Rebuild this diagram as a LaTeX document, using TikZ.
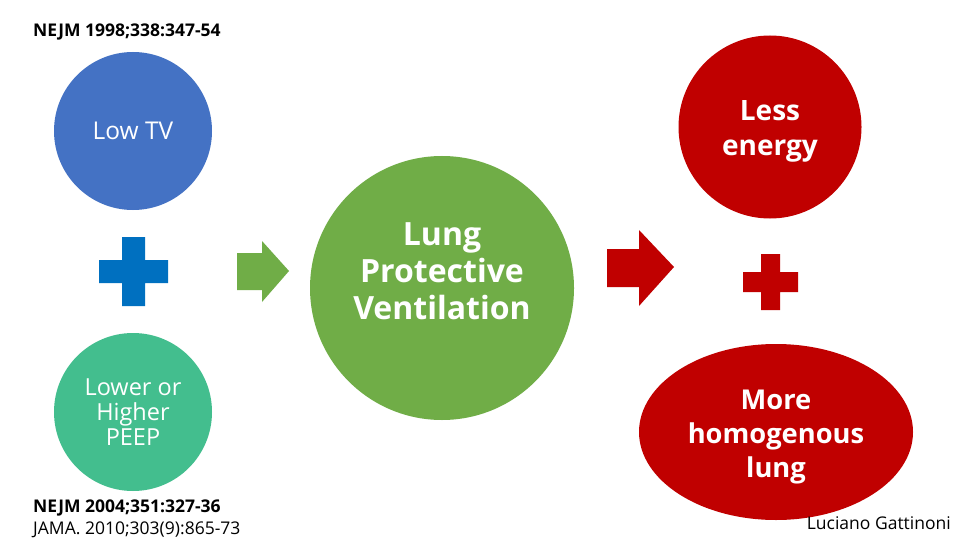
\documentclass[tikz,border=0pt]{standalone}
\usepackage{fontspec}
\setmainfont{Open Sans}
\usepackage{tikz}
\usetikzlibrary{positioning,shapes.geometric}

\definecolor{tvblue}{HTML}{4472C4}
\definecolor{peepteal}{HTML}{43BE8E}
\definecolor{lpvgreen}{HTML}{70AD47}
\definecolor{resred}{HTML}{C00000}
\definecolor{plusblue}{HTML}{0070C0}

\begin{document}
\begin{tikzpicture}[x=1pt,y=-1pt,inner sep=0pt,
    bubble/.style={circle,fill=#1,text=white,align=center},
    inside/.style={text=white,align=center},
    cite/.style={anchor=west,font=\fontsize{17.5}{23}\selectfont}]
    \useasboundingbox[fill=white] (0,0) rectangle (960,540);
    % \draw[help lines,step=20] (0,0) grid (960,540);
    \node[bubble=tvblue,minimum size=158pt,font=\fontsize{24.5}{25}\selectfont]   (tv)   at (133,131) {Low TV};
    \node[bubble=peepteal,minimum size=158pt,font=\fontsize{23.5}{25}\selectfont] (peep) at (133,412) {Lower or\\Higher\\PEEP};
    \node[bubble=lpvgreen,minimum size=264pt] (lpv)  at (442,288) {};
    \node[inside,font=\fontsize{32}{37}\selectfont\bfseries] (lpvtext) at (442,271) {Lung\\Protective\\Ventilation};
    \node[bubble=resred,minimum size=183pt]   (less) at (770,127) {};
    \node[inside,font=\fontsize{28}{35}\selectfont\bfseries] (lesstext) at (770,131) {Less\\energy};
    \node[ellipse,fill=resred,minimum width=274pt,minimum height=176pt] (homo) at (776,432) {};
    \node[inside,font=\fontsize{27.3}{34}\selectfont\bfseries] (homotext) at (776,437) {More\\homogenous\\lung};
    % plus signs
    \fill[plusblue] (122,237) rectangle (145,306) (99,260) rectangle (168,283);
    \fill[resred] (761,254) rectangle (780,310) (743,272) rectangle (798,292);
    % block arrows
    \fill[lpvgreen] (237,253) -- (262,253) -- (262,241) -- (289,271) -- (262,302) -- (262,290) -- (237,290) -- cycle;
    \fill[resred] (607,249) -- (639,249) -- (639,230) -- (674,267) -- (639,306) -- (639,287) -- (607,287) -- cycle;
    % references
    \node[cite,font=\fontsize{17.5}{23}\selectfont\bfseries] (ref1) at (33,32) {NEJM 1998;338:347-54};
    \node[cite,font=\fontsize{17.5}{23}\selectfont\bfseries] (ref2) at (33,508) {NEJM 2004;351:327-36};
    \node[cite] (ref3) at (33,530) {JAMA. 2010;303(9):865-73};
    \node[cite,anchor=east] (auth) at (951,523) {Luciano Gattinoni};
\end{tikzpicture}
\end{document}
